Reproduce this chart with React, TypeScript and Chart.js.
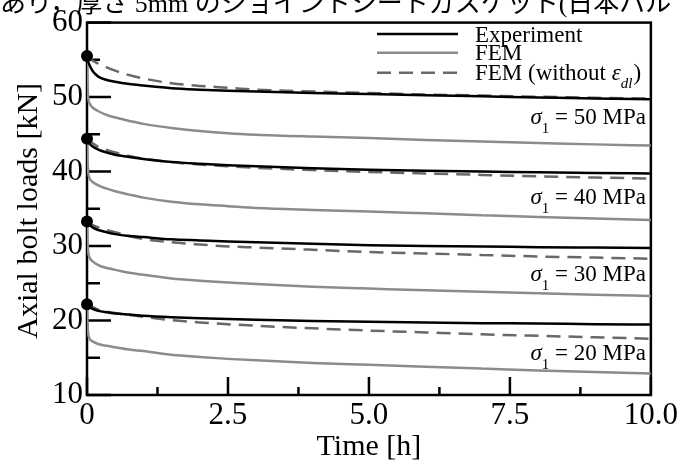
import React, { useEffect, useRef } from 'react';
import { Chart, registerables } from 'chart.js';

Chart.register(...registerables);

// ---- data ----
const timeH = [0, 0.01, 0.02, 0.05, 0.1, 0.2, 0.35, 0.5, 0.75, 1, 1.5, 2, 2.5, 3, 4, 5, 6, 7, 8, 9, 10];

const exp50 = [55.5, 55.1, 54.8, 54.2, 53.5, 52.75, 52.3, 52.05, 51.75, 51.55, 51.2, 51.0, 50.85, 50.75, 50.55, 50.4, 50.25, 50.1, 49.95, 49.8, 49.7];
const femNoEps50 = [55.5, 55.4, 55.3, 55.1, 54.9, 54.5, 54.0, 53.55, 52.95, 52.5, 51.85, 51.5, 51.25, 51.0, 50.75, 50.55, 50.35, 50.2, 50.05, 49.9, 49.8];
const fem50 = [55.5, 51.5, 50.0, 49.1, 48.6, 48.1, 47.6, 47.25, 46.8, 46.4, 45.85, 45.45, 45.15, 44.95, 44.7, 44.5, 44.25, 44.05, 43.85, 43.65, 43.5];

const exp40 = [44.4, 44.2, 44.0, 43.7, 43.35, 42.95, 42.55, 42.25, 41.95, 41.7, 41.3, 41.05, 40.85, 40.7, 40.45, 40.25, 40.1, 40.0, 39.9, 39.8, 39.75];
const femNoEps40 = [44.4, 44.35, 44.3, 44.1, 43.8, 43.3, 42.9, 42.55, 42.1, 41.75, 41.25, 40.95, 40.7, 40.5, 40.2, 39.95, 39.75, 39.55, 39.35, 39.2, 39.05];
const fem40 = [44.4, 41.5, 40.0, 39.05, 38.6, 38.15, 37.7, 37.35, 36.9, 36.5, 35.95, 35.6, 35.35, 35.1, 34.85, 34.65, 34.4, 34.15, 33.9, 33.7, 33.5];

const exp30 = [33.3, 33.15, 33.0, 32.8, 32.5, 32.15, 31.85, 31.6, 31.35, 31.2, 30.9, 30.75, 30.6, 30.5, 30.3, 30.1, 30.0, 29.95, 29.85, 29.8, 29.75];
const femNoEps30 = [33.3, 33.25, 33.2, 33.0, 32.8, 32.5, 32.15, 31.85, 31.35, 30.95, 30.5, 30.2, 29.95, 29.8, 29.5, 29.2, 29.0, 28.8, 28.6, 28.45, 28.3];
const fem30 = [33.3, 30.5, 29.3, 28.4, 27.95, 27.45, 27.05, 26.8, 26.4, 26.15, 25.65, 25.35, 25.1, 24.9, 24.55, 24.3, 24.05, 23.85, 23.65, 23.45, 23.3];

const exp20 = [22.2, 22.1, 22.0, 21.8, 21.55, 21.3, 21.1, 20.95, 20.8, 20.65, 20.45, 20.3, 20.2, 20.1, 19.95, 19.85, 19.75, 19.65, 19.6, 19.5, 19.45];
const femNoEps20 = [22.2, 22.15, 22.1, 22.0, 21.8, 21.45, 21.2, 21.0, 20.75, 20.5, 20.05, 19.75, 19.5, 19.3, 18.95, 18.65, 18.4, 18.15, 17.95, 17.75, 17.55];
const fem20 = [22.2, 19.5, 18.3, 17.5, 17.2, 16.85, 16.6, 16.4, 16.1, 15.9, 15.4, 15.1, 14.85, 14.65, 14.3, 14.05, 13.8, 13.55, 13.3, 13.1, 12.9];

const initialLoads = [55.5, 44.4, 33.3, 22.2];
const initialTime = 0;

const stressLevels = ['50', '40', '30', '20'];

const xTickValues = [0, 2.5, 5, 7.5, 10];
const xTickLabels = ['0', '2.5', '5.0', '7.5', '10.0'];
const xMinorTicks = [1.25, 3.75, 6.25, 8.75];
const yTickValues = [10, 20, 30, 40, 50, 60];
const yTickLabels = ['10', '20', '30', '40', '50', '60'];
const yMinorTicks = [15, 25, 35, 45, 55];

const legendLabels = ['Experiment', 'FEM', 'FEM (without '];
const topText = 'あり，厚さ 5mm のジョイントシートガスケット(日本バル';

// ---- styles ----
const SERIF = '"Liberation Serif", "Times New Roman", serif';
const BLACK = '#000000';
const GRAY = '#8c8c8c';
const DASH_GRAY = '#686868';
const DASH = [14, 8];
const LW = 2.5;
// baseline anchors (data units) for the σ annotations
const stressLabelAnchors = [46.35, 35.7, 25.3, 14.66];

const pts = (ys: number[]) => ys.map((v, i) => ({ x: timeH[i], y: v }));

const decorPlugin = {
  id: 'decor',
  beforeDatasetsDraw(chart: any) {
    const { ctx, chartArea: a, scales } = chart;
    const x = scales.x;
    const y = scales.y;
    ctx.save();
    ctx.strokeStyle = BLACK;
    ctx.lineWidth = LW;
    ctx.beginPath();
    for (const v of yTickValues) {
      const py = y.getPixelForValue(v);
      ctx.moveTo(a.left, py);
      ctx.lineTo(a.left + 24, py);
    }
    for (const v of yMinorTicks) {
      const py = y.getPixelForValue(v);
      ctx.moveTo(a.left, py);
      ctx.lineTo(a.left + 13, py);
    }
    for (const v of xTickValues) {
      const px = x.getPixelForValue(v);
      ctx.moveTo(px, a.bottom);
      ctx.lineTo(px, a.bottom - 18);
    }
    for (const v of xMinorTicks) {
      const px = x.getPixelForValue(v);
      ctx.moveTo(px, a.bottom);
      ctx.lineTo(px, a.bottom - 8);
    }
    ctx.stroke();
    ctx.lineWidth = LW;
    ctx.strokeRect(a.left, a.top, a.right - a.left, a.bottom - a.top);
    ctx.restore();
  },
  afterDraw(chart: any) {
    const { ctx, chartArea: a, scales } = chart;
    const y = scales.y;
    ctx.save();
    ctx.fillStyle = BLACK;
    ctx.textBaseline = 'alphabetic';

    // legend
    const lx0 = 377, lx1 = 458, tx = 475;
    const rows = [34, 52.7, 72.7];
    const styles = [
      { c: BLACK, d: [] as number[] },
      { c: GRAY, d: [] as number[] },
      { c: DASH_GRAY, d: DASH },
    ];
    rows.forEach((ry, i) => {
      ctx.beginPath();
      ctx.strokeStyle = styles[i].c;
      ctx.lineWidth = LW;
      ctx.setLineDash(styles[i].d);
      ctx.moveTo(lx0, ry);
      ctx.lineTo(lx1, ry);
      ctx.stroke();
      ctx.setLineDash([]);
      ctx.font = `23px ${SERIF}`;
      ctx.textAlign = 'left';
      const base = ry + 7.5;
      ctx.fillText(legendLabels[i], tx, base);
      if (i === 2) {
        let cx = tx + ctx.measureText(legendLabels[i]).width;
        ctx.font = `italic 23px ${SERIF}`;
        ctx.fillText('ε', cx, base);
        cx += ctx.measureText('ε').width;
        ctx.font = `italic 15px ${SERIF}`;
        ctx.fillText('dl', cx, base + 8);
        cx += ctx.measureText('dl').width + 1;
        ctx.font = `23px ${SERIF}`;
        ctx.fillText(')', cx, base);
      }
    });

    // stress annotations
    const rightX = 646;
    stressLevels.forEach((s, i) => {
      const base = y.getPixelForValue(stressLabelAnchors[i]);
      const rest = ` = ${s} MPa`;
      ctx.font = `italic 23px ${SERIF}`;
      const wSig = ctx.measureText('σ').width;
      ctx.font = `15px ${SERIF}`;
      const wSub = ctx.measureText('1').width;
      ctx.font = `23px ${SERIF}`;
      const wRest = ctx.measureText(rest).width;
      let cx = rightX - (wSig + wSub + wRest);
      ctx.textAlign = 'left';
      ctx.font = `italic 23px ${SERIF}`;
      ctx.fillText('σ', cx, base);
      cx += wSig;
      ctx.font = `15px ${SERIF}`;
      ctx.fillText('1', cx, base + 9);
      cx += wSub;
      ctx.font = `23px ${SERIF}`;
      ctx.fillText(rest, cx, base);
    });

    // axis titles
    ctx.font = `30px ${SERIF}`;
    ctx.textAlign = 'center';
    ctx.fillText('Time [h]', (a.left + a.right) / 2, 455);
    ctx.save();
    ctx.translate(37, (a.top + a.bottom) / 2 + 2);
    ctx.rotate(-Math.PI / 2);
    ctx.fillText('Axial bolt loads [kN]', 0, 0);
    ctx.restore();

    // clipped document text at the very top
    ctx.font = `26px ${SERIF}, "Noto Sans CJK JP"`;
    ctx.textAlign = 'left';
    ctx.fillText(topText, 0, 12);

    ctx.restore();
  },
};

export default function App() {
  const ref = useRef<HTMLCanvasElement | null>(null);

  useEffect(() => {
    document.body.style.margin = '0';
    const canvas = ref.current;
    if (!canvas) return;

    const lineDs = (label: string, ys: number[], color: string, dash: number[], order: number) => ({
      label,
      data: pts(ys),
      borderColor: color,
      backgroundColor: color,
      borderWidth: LW,
      borderDash: dash,
      pointRadius: 0,
      fill: false,
      cubicInterpolationMode: 'monotone' as const,
      order,
    });

    const datasets: any[] = [
      lineDs('FEM 50', fem50, GRAY, [], 4),
      lineDs('FEM 40', fem40, GRAY, [], 4),
      lineDs('FEM 30', fem30, GRAY, [], 4),
      lineDs('FEM 20', fem20, GRAY, [], 4),
      lineDs('FEM (without εdl) 50', femNoEps50, DASH_GRAY, DASH, 3),
      lineDs('FEM (without εdl) 40', femNoEps40, DASH_GRAY, DASH, 3),
      lineDs('FEM (without εdl) 30', femNoEps30, DASH_GRAY, DASH, 3),
      lineDs('FEM (without εdl) 20', femNoEps20, DASH_GRAY, DASH, 3),
      lineDs('Experiment 50', exp50, BLACK, [], 2),
      lineDs('Experiment 40', exp40, BLACK, [], 2),
      lineDs('Experiment 30', exp30, BLACK, [], 2),
      lineDs('Experiment 20', exp20, BLACK, [], 2),
      {
        label: 'Initial load',
        type: 'scatter',
        data: initialLoads.map((v) => ({ x: initialTime, y: v })),
        pointRadius: 6,
        pointBackgroundColor: BLACK,
        pointBorderColor: BLACK,
        pointBorderWidth: 0,
        showLine: false,
        clip: false,
        order: 0,
      },
    ];

    const chart = new Chart(canvas, {
      type: 'line',
      data: { datasets },
      options: {
        animation: false,
        responsive: false,
        devicePixelRatio: 1,
        layout: { padding: { top: 19.5, right: 28, left: 0, bottom: 0 } },
        plugins: { legend: { display: false }, tooltip: { enabled: false } },
        scales: {
          x: {
            type: 'linear',
            min: 0,
            max: 10,
            afterBuildTicks: (s: any) => {
              s.ticks = xTickValues.map((v) => ({ value: v }));
            },
            afterFit: (s: any) => {
              s.height = 69;
            },
            grid: { display: false, drawTicks: false },
            border: { display: false },
            ticks: {
              color: BLACK,
              font: { family: SERIF, size: 31 },
              padding: 2,
              maxRotation: 0,
              autoSkip: false,
              callback: (_v: any, i: number) => xTickLabels[i],
            },
          },
          y: {
            type: 'linear',
            min: 10,
            max: 60,
            afterBuildTicks: (s: any) => {
              s.ticks = yTickValues.map((v) => ({ value: v }));
            },
            afterFit: (s: any) => {
              s.width = 87;
            },
            grid: { display: false, drawTicks: false },
            border: { display: false },
            ticks: {
              color: BLACK,
              font: { family: SERIF, size: 31 },
              padding: 4,
              autoSkip: false,
              callback: (_v: any, i: number) => yTickLabels[i],
            },
          },
        },
      },
      plugins: [decorPlugin],
    });

    return () => chart.destroy();
  }, []);

  return (
    <div style={{ width: 680, height: 464, background: '#ffffff' }}>
      <canvas ref={ref} width={680} height={464} style={{ display: 'block' }} />
    </div>
  );
}
